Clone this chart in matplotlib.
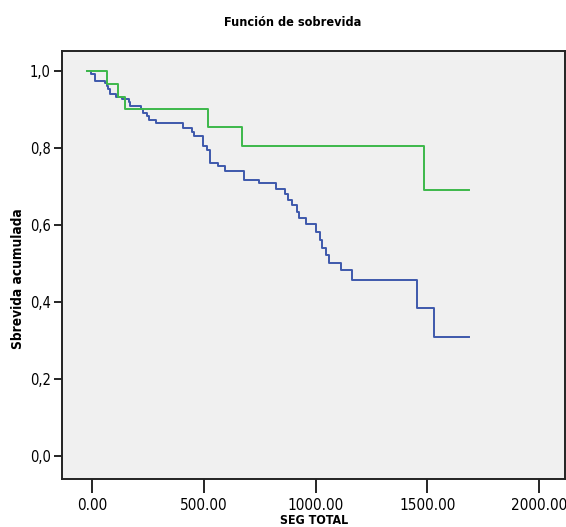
import numpy as np
import matplotlib.pyplot as plt

plt.rcParams['font.family'] = ['Liberation Sans Narrow', 'DejaVu Sans']
plt.rcParams['font.stretch'] = 'condensed'

# survival step data (time, cumulative survival after the event)
blue_t = [-21, -3, 12, 57, 66, 73, 80, 106, 133, 164, 170, 219, 227, 245, 255, 286,
          408, 446, 455, 498, 513, 529, 565, 593, 680, 745, 823, 862, 878, 893, 917,
          924, 956, 1000, 1018, 1027, 1045, 1061, 1112, 1163, 1452, 1531, 1686]
blue_s = [1.0, 0.992, 0.974, 0.968, 0.960, 0.953, 0.941, 0.932, 0.926, 0.920, 0.908,
          0.900, 0.892, 0.884, 0.874, 0.866, 0.851, 0.841, 0.831, 0.805, 0.795, 0.762,
          0.752, 0.740, 0.718, 0.709, 0.694, 0.681, 0.665, 0.653, 0.635, 0.619, 0.602,
          0.583, 0.562, 0.541, 0.522, 0.501, 0.482, 0.456, 0.384, 0.310, 0.310]

green_t = [-21, 66, 115, 146, 519, 669, 1483, 1686]
green_s = [1.0, 0.967, 0.933, 0.901, 0.855, 0.806, 0.691, 0.691]

fig = plt.figure(figsize=(5.66, 5.27), dpi=100)
ax = fig.add_axes([0.1095, 0.0918, 0.8887, 0.812])
ax.set_facecolor('#F0F0F0')

ax.step(blue_t, blue_s, where='post', color='#3E58AC', lw=1.4)
ax.step(green_t, green_s, where='post', color='#3DB84A', lw=1.4)

ax.set_xlim(-134, 2115)
ax.set_ylim(-0.0587, 1.0527)
ax.set_xticks([0, 500, 1000, 1500, 2000])
ax.set_xticklabels(['0.00', '500.00', '1000.00', '1500.00', '2000.00'])
ax.set_yticks([0, 0.2, 0.4, 0.6, 0.8, 1.0])
ax.set_yticklabels(['0,0', '0,2', '0,4', '0,6', '0,8', '1,0'])
ax.tick_params(axis='x', length=10, width=1.2, labelsize=11, pad=4)
ax.tick_params(axis='y', length=6, width=1.2, labelsize=10.5, pad=2)
for sp in ax.spines.values():
    sp.set_linewidth(1.4)
    sp.set_color('#222222')

fig.text(293 / 566, 1 - 22.5 / 527, 'Función de sobrevida', ha='center', va='center',
         fontsize=9.1, fontweight='bold')
fig.text(314 / 566, 1 - 514.5 / 527, 'SEG TOTAL', ha='center', va='top',
         fontsize=8.9, fontweight='bold')
fig.text(18 / 566, 1 - 279 / 527, 'Sbrevida acumulada', ha='center', va='center',
         rotation=90, fontsize=9.8, fontweight='bold')

fig.savefig('out.png', dpi=100, facecolor='white')
